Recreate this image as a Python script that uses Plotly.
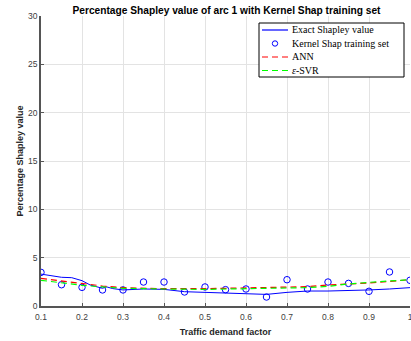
import plotly.graph_objects as go

# Traffic demand factor grid
demand = [0.1, 0.15, 0.2, 0.25, 0.3, 0.35, 0.4, 0.45, 0.5, 0.55,
          0.6, 0.65, 0.7, 0.75, 0.8, 0.85, 0.9, 0.95, 1.0]

# Kernel Shap training samples
kernel_shap = [3.48, 2.2, 1.93, 1.66, 1.66, 2.48, 2.48, 1.45, 1.97, 1.69,
               1.76, 0.93, 2.72, 1.76, 2.48, 2.34, 1.52, 3.52, 2.66]

# Exact Shapley value curve
exact_x = [0.1, 0.125, 0.15, 0.175, 0.2, 0.22, 0.24, 0.25, 0.26, 0.275, 0.3,
           0.35, 0.4, 0.45, 0.5, 0.55, 0.6, 0.65, 0.7, 0.75, 0.8, 0.85,
           0.9, 0.95, 1.0]
exact_y = [3.3, 3.12, 2.97, 2.93, 2.62, 2.17, 1.9, 1.83, 1.98, 1.8, 1.66,
           1.76, 1.72, 1.48, 1.41, 1.34, 1.28, 1.2, 1.41, 1.55, 1.55, 1.59,
           1.66, 1.76, 1.9]

# Model predictions
pred_x = [0.1, 0.15, 0.2, 0.25, 0.3, 0.4, 0.5, 0.6, 0.7, 0.75, 0.8, 0.85,
          0.9, 1.0]
ann_y = [2.86, 2.59, 2.31, 2.07, 1.9, 1.79, 1.79, 1.9, 1.97, 2.0, 2.17,
         2.27, 2.38, 2.72]
svr_y = [2.66, 2.41, 2.14, 1.97, 1.83, 1.76, 1.72, 1.79, 1.83, 1.9, 2.03,
         2.28, 2.45, 2.72]

x_ticks = [0.1, 0.2, 0.3, 0.4, 0.5, 0.6, 0.7, 0.8, 0.9, 1.0]
x_tick_text = ["0.1", "0.2", "0.3", "0.4", "0.5", "0.6", "0.7", "0.8", "0.9", "1"]
y_ticks = [0, 5, 10, 15, 20, 25, 30]

legend_labels = ["Exact Shapley value", "Kernel Shap training set", "ANN",
                 "<i>ε</i>-SVR"]

BLUE, RED, GREEN = "#0000ff", "#ff0000", "#00ff00"
DASH = "6px,4px"

W, H = 411, 341
M_L, M_R, M_T, M_B = 41, 1, 16, 35
PW, PH = W - M_L - M_R, H - M_T - M_B


def px(x):
    """Horizontal pixel -> paper coordinate."""
    return (x - M_L) / PW


def py(y):
    """Vertical pixel (from top) -> paper coordinate."""
    return (H - M_B - y) / PH


fig = go.Figure()
fig.add_trace(go.Scatter(x=exact_x, y=exact_y, mode="lines",
                         line=dict(color=BLUE, width=1)))
fig.add_trace(go.Scatter(x=demand, y=kernel_shap, mode="markers",
                         marker=dict(symbol="circle-open", size=6.5,
                                     color=BLUE, line=dict(width=1))))
fig.add_trace(go.Scatter(x=pred_x, y=ann_y, mode="lines",
                         line=dict(color=RED, width=1.2, dash=DASH)))
fig.add_trace(go.Scatter(x=pred_x, y=svr_y, mode="lines",
                         line=dict(color=GREEN, width=1.2, dash=DASH)))

# Compact boxed legend
shapes = [dict(type="rect", xref="paper", yref="paper",
               x0=px(259), x1=px(404), y0=py(77), y1=py(23),
               line=dict(color="#000000", width=1), fillcolor="white",
               layer="above")]
annotations = []
row_y = [30, 43.5, 57, 70.5]
sample_styles = [("line", BLUE, "solid"), ("marker", BLUE, None),
                 ("line", RED, DASH), ("line", GREEN, DASH)]
for label, yy, (kind, col, dash) in zip(legend_labels, row_y, sample_styles):
    if kind == "line":
        shapes.append(dict(type="line", xref="paper", yref="paper",
                           x0=px(262), x1=px(288), y0=py(yy), y1=py(yy),
                           line=dict(color=col, width=1.2, dash=dash),
                           layer="above"))
    else:
        r = 2.7
        shapes.append(dict(type="circle", xref="paper", yref="paper",
                           x0=px(275 - r), x1=px(275 + r),
                           y0=py(yy + r), y1=py(yy - r),
                           line=dict(color=col, width=1), layer="above"))
    annotations.append(dict(text=label, xref="paper", yref="paper",
                            x=px(290), y=py(yy), xanchor="left",
                            yanchor="middle", showarrow=False,
                            font=dict(family="Liberation Serif", size=10,
                                      color="#000000")))

axis_common = dict(
    showgrid=True, gridcolor="#e3e3e3", gridwidth=1,
    zeroline=False, showline=True, linecolor="#555555", linewidth=1.5,
    ticks="inside", ticklen=3, tickcolor="#555555",
    tickfont=dict(family="Liberation Sans", size=8.5, color="#404040"),
    ticklabeloverflow="allow", automargin=False,
    mirror=False,
)

fig.update_layout(
    width=W, height=H,
    margin=dict(l=M_L, r=M_R, t=M_T, b=M_B),
    paper_bgcolor="white", plot_bgcolor="white",
    title=dict(text="<b>Percentage Shapley value of arc 1 with Kernel Shap training set</b>",
               x=226.5 / W, xanchor="center", y=1 - 10 / H, yanchor="middle",
               font=dict(family="Liberation Sans", size=10.2, color="#000000")),
    xaxis=dict(range=[0.1, 1.0], tickvals=x_ticks, ticktext=x_tick_text,
               ticklabelstandoff=2,
               title=dict(text="<b>Traffic demand factor</b>", standoff=8,
                          font=dict(family="Liberation Sans", size=9,
                                    color="#262626")),
               **axis_common),
    yaxis=dict(range=[0, 30], tickvals=y_ticks,
               title=dict(text="<b>Percentage Shapley value</b>", standoff=3,
                          font=dict(family="Liberation Sans", size=9,
                                    color="#262626")),
               **axis_common),
    shapes=shapes,
    annotations=annotations,
    showlegend=False,
)

fig.write_html("out.html")
